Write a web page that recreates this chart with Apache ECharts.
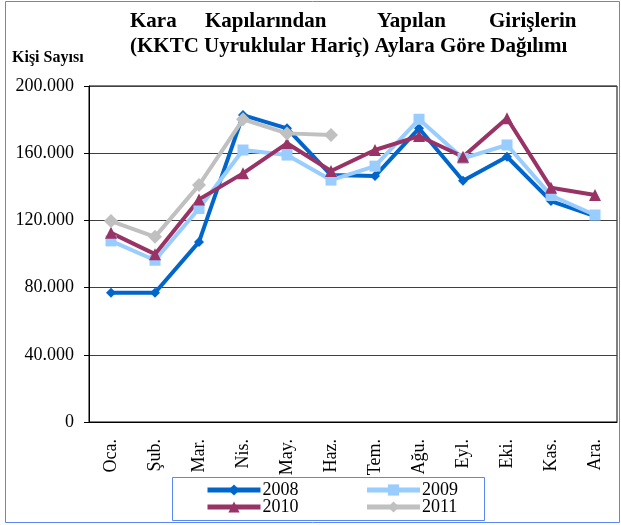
<!DOCTYPE html>
<html>
<head>
<meta charset="utf-8">
<script src="https://cdn.jsdelivr.net/npm/echarts@6/dist/echarts.min.js"></script>
<style>
  html, body { margin: 0; padding: 0; background: #fff; }
  #main { width: 621px; height: 525px; }
</style>
</head>
<body>
<div id="main"></div>
<script>
var months = ['Oca.', 'Şub.', 'Mar.', 'Nis.', 'May.', 'Haz.', 'Tem.', 'Ağu.', 'Eyl.', 'Eki.', 'Kas.', 'Ara.'];
var y2008 = [76900, 76900, 107200, 182700, 174800, 147000, 146400, 174800, 143600, 157900, 131500, 122500];
var y2009 = [107800, 96300, 127100, 161900, 158900, 144000, 152300, 180200, 156900, 164900, 134800, 123200];
var y2010 = [112600, 99900, 132500, 148000, 165900, 149400, 161900, 170200, 157900, 180800, 139400, 135100];
var y2011 = [119600, 110200, 141000, 180200, 171800, 170800, null, null, null, null, null, null];
var yTicks = [0, 40000, 80000, 120000, 160000, 200000];

var serif = 'Liberation Serif';
var myChart = echarts.init(document.getElementById('main'));

function fmt(v) {
  // 200000 -> 200.000
  return String(v).replace(/\B(?=(\d{3})+(?!\d))/g, '.');
}

function line(name, data, color, symbol, size) {
  return {
    name: name,
    type: 'line',
    data: data,
    symbol: symbol,
    symbolSize: size,
    showSymbol: true,
    connectNulls: false,
    lineStyle: { color: color, width: 4 },
    itemStyle: { color: color },
    emphasis: { disabled: true }
  };
}

var titleStyle = { fontFamily: serif, fontSize: 21, fontWeight: 'bold', color: '#000' };
var legendText = { fontFamily: serif, fontSize: 18, color: '#000', padding: [0, 0, 0, -3] };

var option = {
  animation: false,
  title: [
    { text: 'Kara', left: 130, top: 11, padding: 0, textStyle: titleStyle },
    { text: 'Kapılarından', left: 205, top: 11, padding: 0, textStyle: titleStyle },
    { text: 'Yapılan', left: 377, top: 11, padding: 0, textStyle: titleStyle },
    { text: 'Girişlerin', left: 489, top: 11, padding: 0, textStyle: titleStyle },
    { text: '(KKTC Uyruklular Hariç) Aylara Göre Dağılımı', left: 130, top: 36, padding: 0, textStyle: titleStyle },
    { text: 'Kişi Sayısı', left: 12, top: 50, padding: 0, textStyle: { fontFamily: serif, fontSize: 16, fontWeight: 'bold', color: '#000' } }
  ],
  legend: [
    {
      data: ['2008', '2009'],
      left: 205, top: 481,
      itemWidth: 53, itemHeight: 14, itemGap: 66,
      padding: 0,
      lineStyle: { width: 5 },
      textStyle: legendText
    },
    {
      data: ['2010', '2011'],
      left: 205, top: 498,
      itemWidth: 53, itemHeight: 14, itemGap: 66,
      padding: 0,
      lineStyle: { width: 5 },
      textStyle: legendText
    }
  ],
  graphic: [
    { type: 'rect', shape: { x: 5.5, y: 1.5, width: 614, height: 521 }, style: { fill: null, stroke: '#5b87f2', lineWidth: 1 }, silent: true },
    { type: 'rect', shape: { x: 172.5, y: 477.5, width: 312, height: 43 }, style: { fill: null, stroke: '#5b87f2', lineWidth: 1 }, silent: true }
  ],
  grid: {
    left: 89, right: 4, top: 86, bottom: 103,
    show: true, borderColor: '#000', borderWidth: 1, backgroundColor: 'transparent'
  },
  xAxis: {
    type: 'category',
    data: months,
    boundaryGap: true,
    axisLine: { lineStyle: { color: '#000', width: 1 } },
    axisTick: { show: false },
    axisLabel: { rotate: 90, margin: 17, fontFamily: serif, fontSize: 18, color: '#000' }
  },
  yAxis: {
    type: 'value',
    min: yTicks[0], max: yTicks[yTicks.length - 1], interval: 40000,
    axisLine: { show: true, lineStyle: { color: '#000', width: 1 } },
    axisTick: { show: true, length: 5, lineStyle: { color: '#000' } },
    splitLine: { lineStyle: { color: '#404040', width: 1 } },
    axisLabel: { fontFamily: serif, fontSize: 18, color: '#000', margin: 15, formatter: fmt }
  },
  series: [
    line('2008', y2008, '#0066cc', 'diamond', 10),
    line('2009', y2009, '#99ccff', 'rect', 11),
    line('2010', y2010, '#993366', 'triangle', 12),
    line('2011', y2011, '#c0c0c0', 'diamond', 14)
  ]
};

option && myChart.setOption(option);
</script>
</body>
</html>
